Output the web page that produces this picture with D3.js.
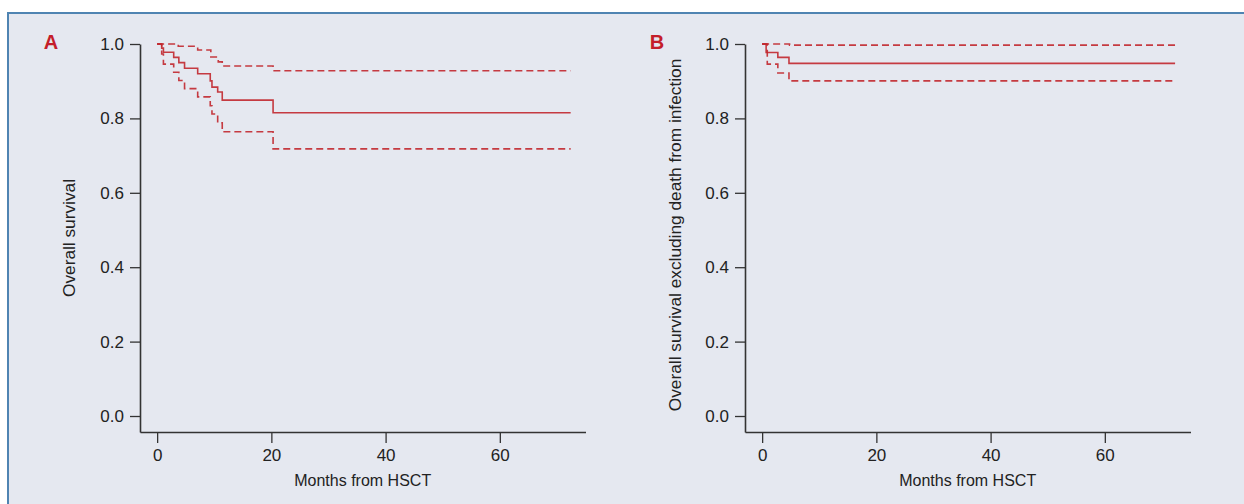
<!DOCTYPE html>
<html>
<head>
<meta charset="utf-8">
<script src="https://cdn.jsdelivr.net/npm/d3@7"></script>
<style>
  html, body { margin: 0; padding: 0; background: #ffffff; }
  svg { display: block; }
</style>
</head>
<body>
<svg id="chart" width="1244" height="504"></svg>
<script>
// ---- Data ----
const xTicks = [0, 20, 40, 60];
const yTicks = [0.0, 0.2, 0.4, 0.6, 0.8, 1.0];
const xTitle = "Months from HSCT";

// Panel A: overall survival
const aTitle = "Overall survival";
const aEnd = 72.4;
const aMainMonths = [0, 0.8, 1.1, 2.9, 3.8, 4.8, 7.1, 9.3, 9.6, 10.6, 11.4, 20.3];
const aMainValues = [1.0, 0.989, 0.978, 0.964, 0.950, 0.935, 0.920, 0.901, 0.884, 0.871, 0.849, 0.815];
const aUpperMonths = [0, 3.7, 7.1, 9.4, 10.7, 11.4, 20.3];
const aUpperValues = [1.0, 0.994, 0.984, 0.965, 0.952, 0.941, 0.928];
const aLowerMonths = [0, 0.8, 1.1, 2.9, 3.8, 4.8, 7.1, 9.3, 9.6, 10.6, 11.4, 20.3];
const aLowerValues = [1.0, 0.973, 0.946, 0.924, 0.902, 0.880, 0.858, 0.834, 0.812, 0.788, 0.764, 0.718];

// Panel B: overall survival excluding death from infection
const bTitle = "Overall survival excluding death from infection";
const bEnd = 72.3;
const bMainMonths = [0, 0.7, 2.75, 4.7];
const bMainValues = [1.0, 0.977, 0.964, 0.948];
const bUpperMonths = [0, 4.8];
const bUpperValues = [1.0, 0.997];
const bLowerMonths = [0, 0.9, 2.75, 4.7];
const bLowerValues = [1.0, 0.946, 0.922, 0.901];

// ---- Drawing ----
const svg = d3.select("#chart");
const RED = "#c1272d";
const AXIS = "#333333";
const FONT = "'Liberation Sans', Arial, sans-serif";

// frame
svg.append("rect").attr("x", 8).attr("y", 13).attr("width", 1244).attr("height", 504)
  .attr("fill", "#e5e8f0");
svg.append("path").attr("d", "M8,504 L8,13 L1244,13")
  .attr("fill", "none").attr("stroke", "#4f84b2").attr("stroke-width", 2);

function toSeries(months, values, end) {
  const pts = months.map((m, i) => ({m: m, v: values[i]}));
  pts.push({m: end, v: values[values.length - 1]});
  return pts;
}

function panel(cfg) {
  const g = svg.append("g");
  const x = d3.scaleLinear().domain([-3, 75]).range([cfg.left, cfg.left + 445.5]);
  const y = d3.scaleLinear().domain([-0.043, 1.0]).range([432, 44]);

  // y axis
  const ya = g.append("g").attr("transform", `translate(${cfg.left},0)`)
    .call(d3.axisLeft(y).tickValues(yTicks).tickFormat(d3.format(".1f"))
      .tickSize(10).tickSizeOuter(0).tickPadding(6));
  // x axis
  const xa = g.append("g").attr("transform", `translate(0,432)`)
    .call(d3.axisBottom(x).tickValues(xTicks).tickFormat(d3.format("d"))
      .tickSize(11).tickSizeOuter(0).tickPadding(6));
  [ya, xa].forEach(a => {
    a.select(".domain").attr("stroke", AXIS).attr("stroke-width", 1.6);
    a.selectAll(".tick line").attr("stroke", AXIS).attr("stroke-width", 1.3);
    a.selectAll(".tick text").attr("fill", "#222").style("font-family", FONT).style("font-size", "17px");
  });

  // axis titles
  g.append("text").attr("x", cfg.left + 222.7).attr("y", 486)
    .attr("text-anchor", "middle").attr("fill", "#222")
    .style("font-family", FONT).style("font-size", "16px").text(xTitle);
  g.append("text").attr("transform", `translate(${cfg.ytx},${cfg.yty}) rotate(-90)`)
    .attr("text-anchor", "middle").attr("fill", "#222")
    .style("font-family", FONT).style("font-size", "17.3px").text(cfg.title);

  // panel letter
  g.append("text").attr("x", cfg.letterX).attr("y", 49)
    .attr("text-anchor", "middle").attr("fill", "#c41e2a")
    .style("font-family", FONT).style("font-size", "20px").style("font-weight", "bold")
    .text(cfg.letter);

  const line = d3.line().x(d => x(d.m)).y(d => y(d.v)).curve(d3.curveStepAfter);
  cfg.series.forEach(s => {
    g.append("path").datum(s.data).attr("d", line)
      .attr("fill", "none").attr("stroke", RED).attr("stroke-opacity", 0.9)
      .attr("stroke-width", 1.6)
      .attr("stroke-dasharray", s.dashed ? "7,4" : null);
  });
}

panel({
  left: 140, letter: "A", letterX: 51, title: aTitle, ytx: 75, yty: 238,
  series: [
    {data: toSeries(aUpperMonths, aUpperValues, aEnd), dashed: true},
    {data: toSeries(aLowerMonths, aLowerValues, aEnd), dashed: true},
    {data: toSeries(aMainMonths, aMainValues, aEnd), dashed: false}
  ]
});

panel({
  left: 745, letter: "B", letterX: 657, title: bTitle, ytx: 681, yty: 235,
  series: [
    {data: toSeries(bUpperMonths, bUpperValues, bEnd), dashed: true},
    {data: toSeries(bLowerMonths, bLowerValues, bEnd), dashed: true},
    {data: toSeries(bMainMonths, bMainValues, bEnd), dashed: false}
  ]
});
</script>
</body>
</html>
